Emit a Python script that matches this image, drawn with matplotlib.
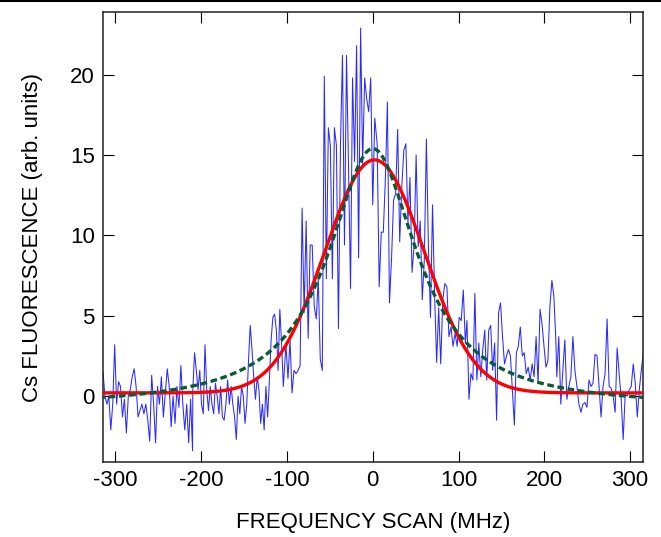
import numpy as np
import matplotlib
matplotlib.use("Agg")
import matplotlib.pyplot as plt
from matplotlib.lines import Line2D

# fluorescence trace in six stretches
seg_a = [1.5, 0, -0.5, 0, -2.1, -0.5, 3.2, -0.5, 0.9, 0.6, -1.3, -0.2, -2.3, 0, 0.4,
         1.2, 1.7, 0.6, -1.3, -0.9, -0.5, -1.1, -0.5, -1.5, -2.8, 1.3, -0.5, -2.9, 0.6,
         -0.5, 1.2, -1.3, 0.2, 1.7, 0.6, -1.9, 0, -1.7, 0.6, -0.7, 1.9, -0.5, -2.1, -0.5,
         -2.9, -0.2, -3.4]
seg_b = [0.4, 2.7, 1.6, 0.4, 1.6, -0.5, -1.1, 3.2, 0.4, -0.9, 0.6, -0.5, -1.1, 0.8, 0,
         -1.1, 0.6, -1.3, -1.5, -0.5, 1.0, -0.5, 0.6, -0.5, -1.3, -2.7, 0, -1.1, 0.6, 0,
         -1.7, -0.5, 2.2, 4.4, 2.9, 1.2, -0.2, 1.2, 0.4, -1.7, -0.5, -2.1, 0.6, -1.3, 1.0,
         3.5, 4.9, 5.1, 4.1, 1.6, 5.4, 3.3, 0.6]
seg_c = [3.2, 1.1, 3.5, 0.2, 1.6, 1.4, 1.6, 1.9, 11.7, 5.2, 10.9, 3.6, 9.4, 9.4, 5.6,
         4.8, 7.3, 2.3, 1.6, 19.9, 7.3, 16.7, 15.6, 7.3, 16.7, 15.6, 4.2, 15.6, 21.2, 9.4,
         21.2, 14.2, 6.7, 19.8, 14.6, 21.8, 8.6, 22.9, 14.4, 19.8, 18.5, 17.7, 19.8, 11.9,
         17.3]
seg_d = [15.7, 6.8, 10.2, 10.2, 13.5, 18.3, 5.8, 8.5, 12.2, 12.6, 16.6, 9.6, 13.0, 15.3,
         15.7, 10.8, 13.6, 7.7, 9.3, 15.0, 9.3, 10.9, 6.0, 8.5, 16.0, 9.3, 4.9, 11.9, 6.4,
         2.1, 5.5, 2.0, 6.0, 7.0, 6.8, 3.7, 4.3, 3.1, 3.9, 3.1, 4.9, 4.7, 6.6, 3.3]
seg_e = [4.7, -0.2, 1.4, 1.0, 6.4, 1.0, 3.3, 1.2, 2.9, 4.1, 1.0, 4.1, 4.4, 1.6, 3.3, -1.5,
         5.2, 5.8, 3.7, 2.0, 2.5, 2.9, 2.5, 0.4, -1.8, 2.7, 3.1, 4.3, 2.5, 2.7, 1.4, 1.8,
         1.0, 2.0, 1.2, 3.7, 0.8, 5.4, 4.5, 3.1, 1.8, 2.2, 5.6, 7.2, 6.2, 3.5]
seg_f = [1.2, 3.7, -0.5, 1.6, 3.5, -0.2, 0.6, 1.2, 3.7, 1.6, 0.6, -0.5, -1.0, -0.5, -0.4,
         -0.7, 1.0, 0.6, 0.8, 2.6, 2.5, 0.6, -1.3, 0.6, 1.4, 4.8, 0.6, 0.5, 0, -1.0, 3.0,
         1.4, -0.2, -2.7, 0.1, 0, 0.4, 0.6, 2.0, 0.8, -1.3, 0.4, 1.6, 2.7, 2.8]
seg_spans = [(-314.5, -210.1), (-209.8, -104.3), (-101.2, 2.3),
             (5.1, 107.9), (109.8, 213.4), (214.5, 317.7)]
segments = [seg_a, seg_b, seg_c, seg_d, seg_e, seg_f]

# fit parameters (center, width, amplitude, baseline)
gauss_fit = (2.0, 58.0, 14.5, 0.2)
lorentz_fit = (0.0, 63.0, 16.1, -0.7)

xticks = [-300, -200, -100, 0, 100, 200, 300]
yticks = [0, 5, 10, 15, 20]

freq = np.concatenate([np.linspace(a, b, len(s)) for (a, b), s in zip(seg_spans, segments)])
signal = np.concatenate(segments)

xf = np.linspace(-320, 320, 600)
c, s, a, b = gauss_fit
gauss = b + a * np.exp(-(xf - c) ** 2 / (2 * s ** 2))
c, g, a, b = lorentz_fit
lorentz = b + a / (1 + ((xf - c) / g) ** 2)

plt.rcParams['font.family'] = ['Liberation Sans', 'DejaVu Sans']
plt.rcParams['axes.unicode_minus'] = False

fig = plt.figure(figsize=(6.61, 5.37), dpi=100)
ax = fig.add_axes([103 / 661, 75 / 537, 540 / 661, 450 / 537])

ax.plot(freq, signal, color='#2a2aff', lw=0.75, zorder=2)
ax.plot(xf, gauss, color='#ff0000', lw=2.4, zorder=3)
ax.plot(xf, lorentz, color='#0b5a32', lw=2.4, dashes=(2.0, 1.1), zorder=4)

ax.set_xlim(-314.5, 315)
ax.set_ylim(-4.1, 23.9)
ax.set_xticks(xticks)
ax.set_yticks(yticks)
ax.tick_params(direction='in', length=8, width=0.8, top=True, right=True,
               labelsize=16, pad=6, colors='black')
for sp in ax.spines.values():
    sp.set_linewidth(1.1)
    sp.set_color('#222222')

ax.set_xlabel('FREQUENCY SCAN (MHz)', fontsize=16, labelpad=15)
ax.set_ylabel('Cs FLUORESCENCE (arb. units)', fontsize=16, labelpad=19)

fig.add_artist(Line2D([0, 1], [0.998, 0.998], transform=fig.transFigure,
                      color='black', lw=1.5))

fig.savefig('out.png', dpi=100)
